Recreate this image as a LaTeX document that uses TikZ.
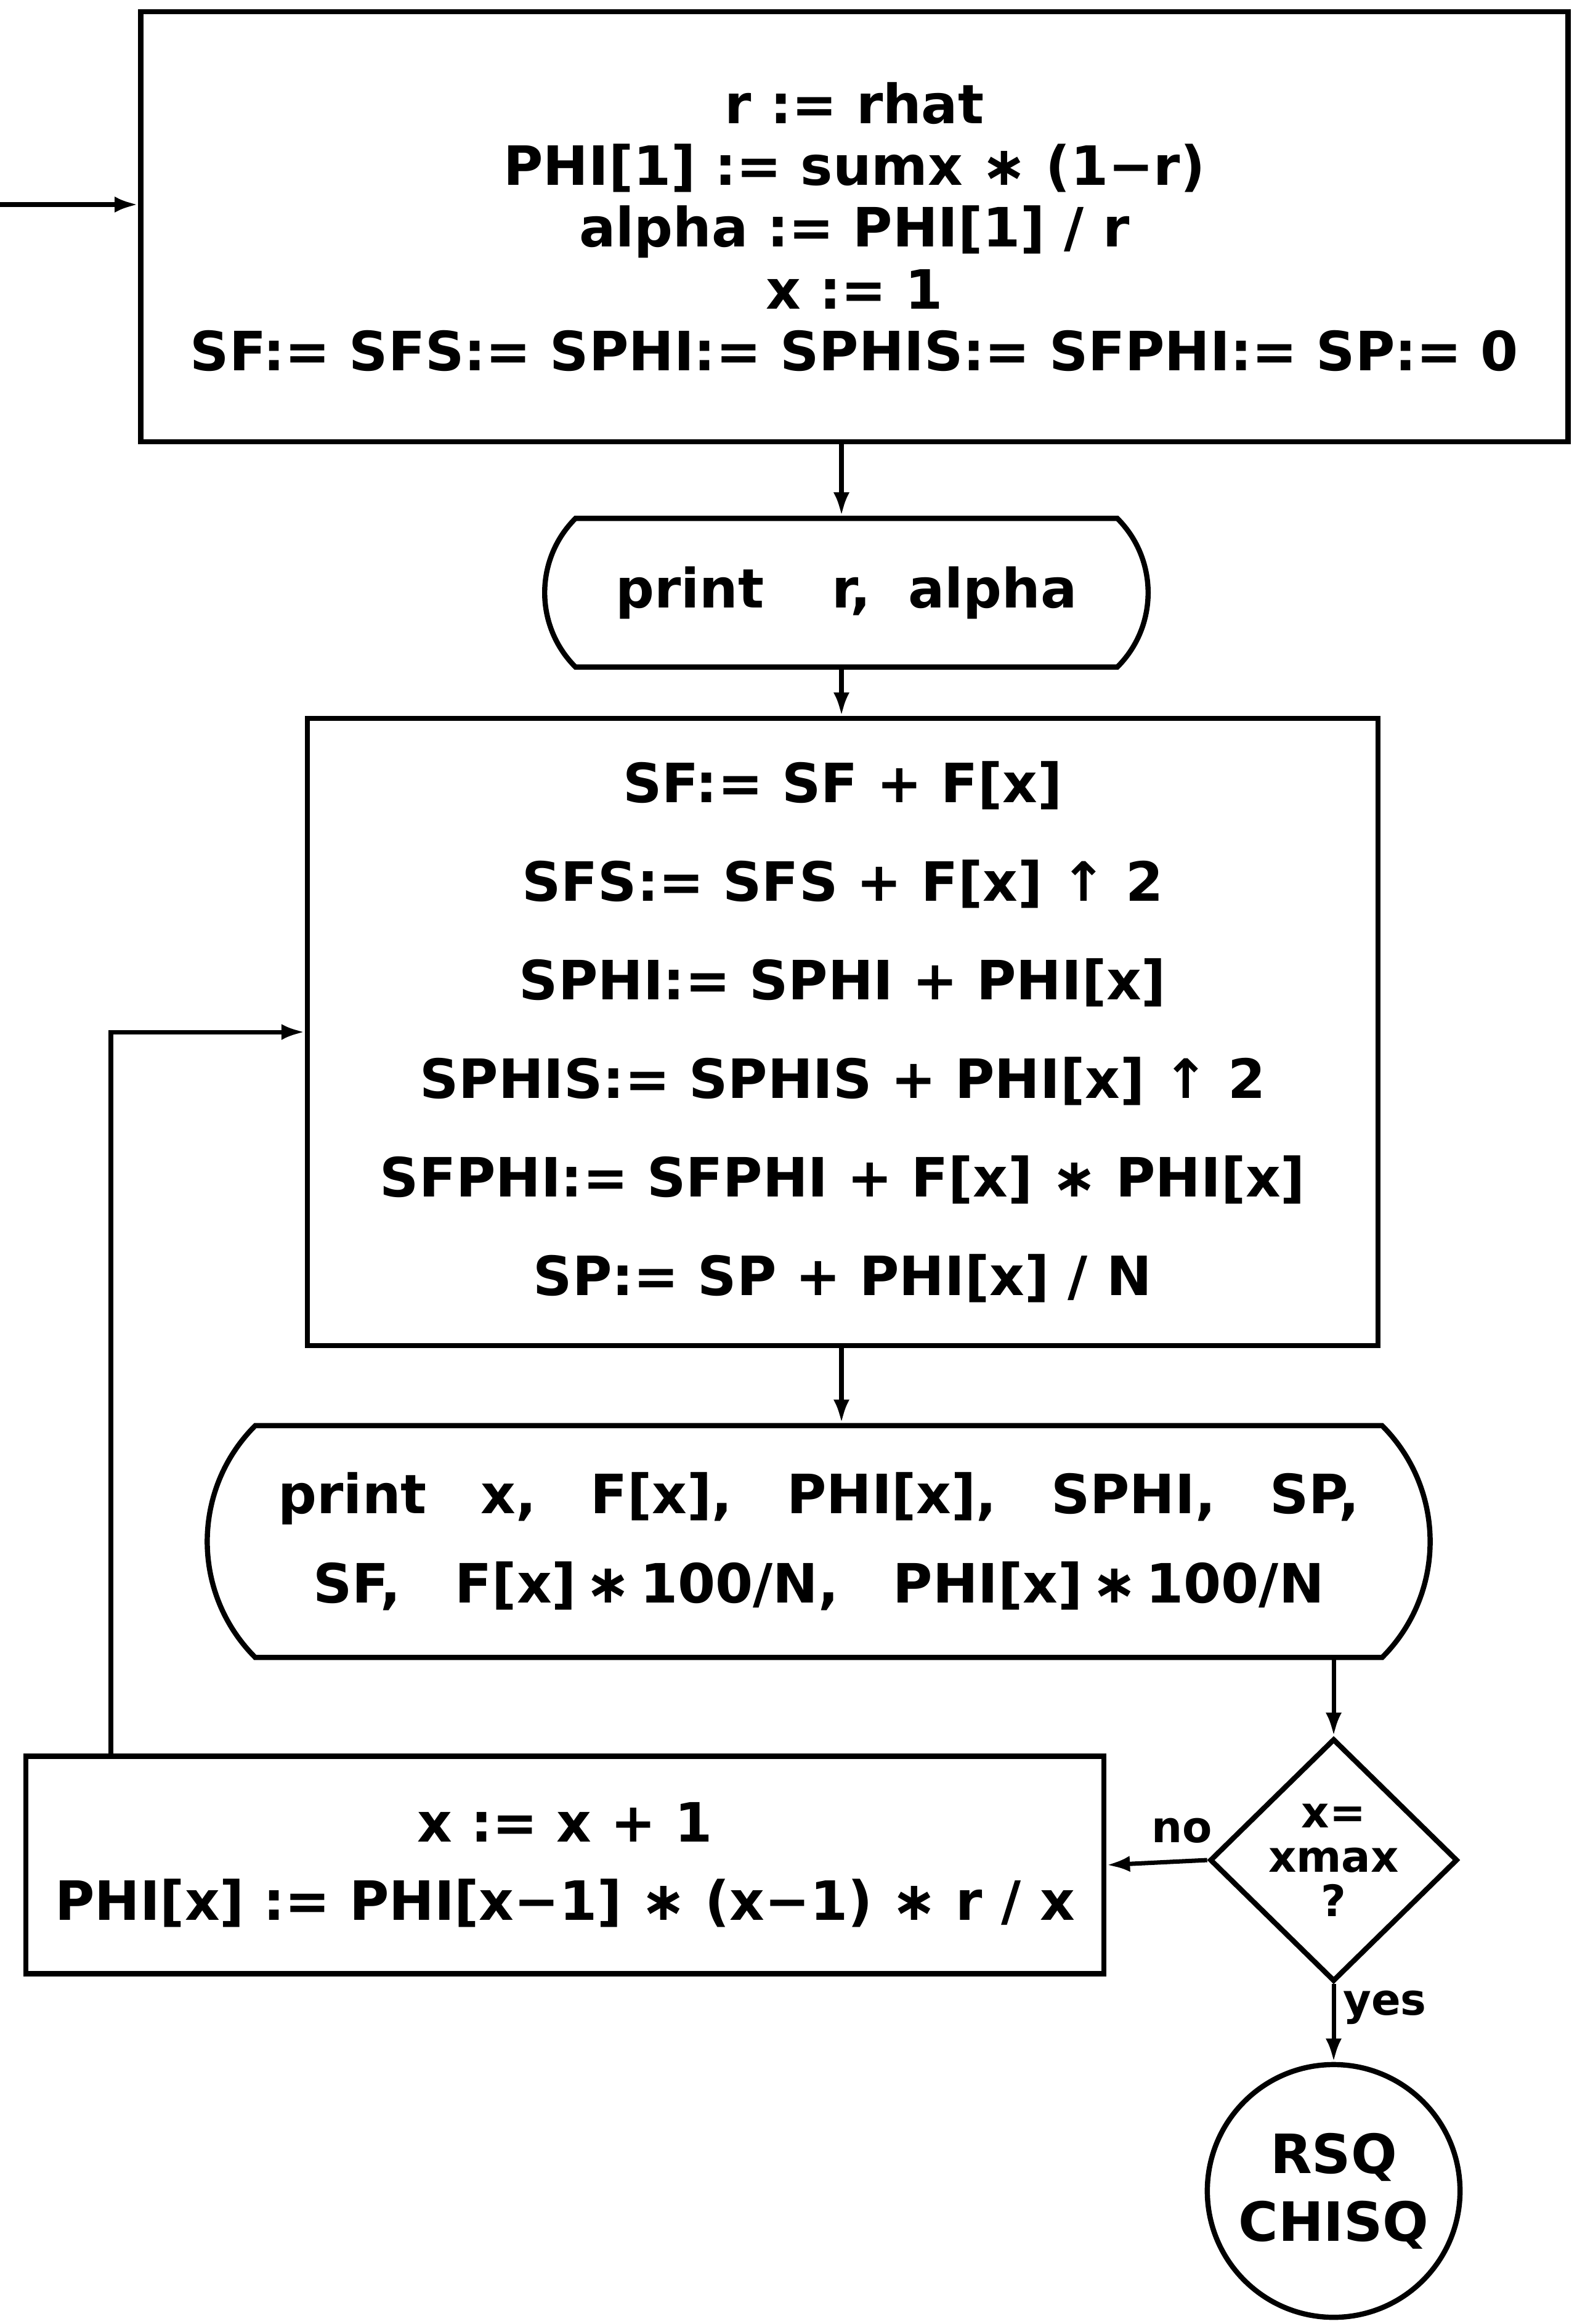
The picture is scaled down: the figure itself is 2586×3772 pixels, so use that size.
\documentclass[tikz,border=0pt]{standalone}
\usepackage{fontspec}
\setmainfont{DejaVu Sans}
\usetikzlibrary{shapes.geometric,shapes.misc,arrows.meta}

\begin{document}
\begin{tikzpicture}[x=0.01cm,y=-0.01cm,line width=2.4pt,>={Latex[length=0.38cm,width=0.26cm]},
  every node/.style={font=\bfseries\fontsize{25}{30}\selectfont},
  box/.style={draw,rectangle,align=center,inner sep=0pt},
  oval/.style={draw,rounded rectangle,rounded rectangle arc length=90,align=center,inner sep=0pt},
  flow/.style={->,line width=2pt},
  small/.style={font=\bfseries\fontsize{20}{20.5}\selectfont}]
\useasboundingbox (0,0) rectangle (2586,3772);
\coordinate (entry) at (0,332);
\coordinate (axis) at (1366,0);
\coordinate (loop) at (180,0);
\node[box,minimum width=23.16cm,minimum height=6.98cm,font=\bfseries\fontsize{25}{28.5}\selectfont] (init) at (1387,368)
  {r := rhat\\ PHI[1] := sumx ∗ (1−r)\\ alpha := PHI[1] / r\\ x := 1\\ SF:= SFS:= SPHI:= SPHIS:= SFPHI:= SP:= 0};
\node[oval,minimum width=9.79cm,minimum height=2.41cm] (show) at (1374,962) {print\hspace{1.1cm}r,\hspace{0.6cm}alpha};
\node[box,minimum width=17.37cm,minimum height=10.17cm,font=\bfseries\fontsize{25}{45.5}\selectfont] (sums) at (1368,1675)
  {SF:= SF + F[x]\\ SFS:= SFS + F[x] ↑ 2\\ SPHI:= SPHI + PHI[x]\\ SPHIS:= SPHIS + PHI[x] ↑ 2\\
   SFPHI:= SFPHI + F[x] ∗ PHI[x]\\ SP:= SP + PHI[x] / N};
\node[oval,minimum width=19.84cm,minimum height=3.76cm,font=\bfseries\fontsize{25}{41.3}\selectfont] (out) at (1329,2502)
  {print\quad x,\quad F[x],\quad PHI[x],\quad SPHI,\quad SP,\\
   SF,\quad F[x]\,∗\,100/N,\quad PHI[x]\,∗\,100/N};
\node[draw,diamond,minimum width=4.02cm,minimum height=3.78cm,inner sep=0pt,align=center,small] (test) at (2165,3019)
  {x=\\ xmax\\ ?};
\node[box,minimum width=17.49cm,minimum height=3.53cm,font=\bfseries\fontsize{25}{36}\selectfont] (next) at (917,3027)
  {x := x + 1\\ PHI[x] := PHI[x−1] ∗ (x−1) ∗ r / x};
\node[draw,circle,minimum size=4.1cm,inner sep=0pt,align=center,font=\bfseries\fontsize{25}{31.3}\selectfont] (stop) at (2165,3556)
  {RSQ\\ CHISQ};
\draw[flow] (entry) -- (entry -| init.west);
\draw[flow] (init.south -| axis) -- (show.north -| axis);
\draw[flow] (show.south -| axis) -- (sums.north -| axis);
\draw[flow] (sums.south -| axis) -- (out.north -| axis);
\draw[flow] (out.south -| test) -- (test.north);
\draw[flow] (test.west) -- node[pos=0.25,above=4pt,small] {no} (next.east);
\draw[flow] (next.north -| loop) |- (sums.west);
\draw[flow] (test.south) -- node[pos=0.3,right,small] {yes} (stop.north);
\end{tikzpicture}
\end{document}
